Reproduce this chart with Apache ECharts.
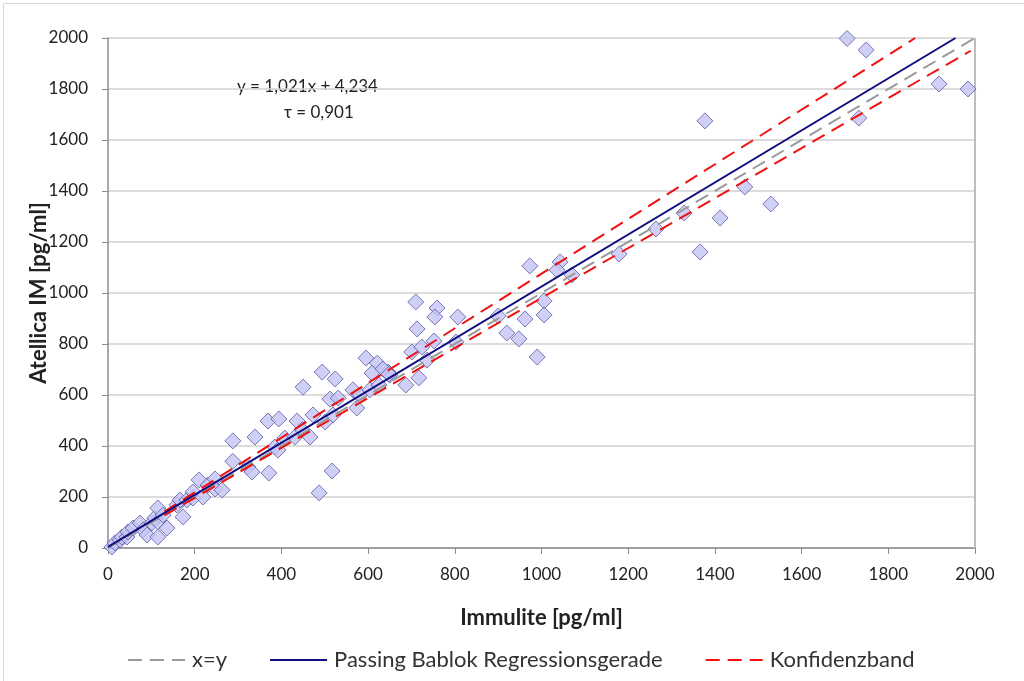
<!DOCTYPE html>
<html><head><meta charset="utf-8">
<script src="https://cdn.jsdelivr.net/npm/echarts@6/dist/echarts.min.js"></script>
<style>html,body{margin:0;padding:0;background:#fff}#c{width:1024px;height:681px}</style>
</head><body><div id="c"></div>
<script>
const xTicks = [0,200,400,600,800,1000,1200,1400,1600,1800,2000];
const yTicks = [0,200,400,600,800,1000,1200,1400,1600,1800,2000];
const seriesNames = ['x=y','Passing Bablok Regressionsgerade','Konfidenzband'];
const points = [
 [9,4],[16,20],[28,31],[32,43],[44,43],[46,63],[58,78],[74,98],[81,71],[90,51],
 [101,98],[108,118],[115,102],[115,157],[115,43],[127,129],[136,78],[159,169],[166,188],[173,122],
 [182,188],[196,196],[196,220],[210,267],[219,200],[231,247],[247,271],[247,231],[263,227],
 [288,420],[288,340],[323,318],[332,298],[371,294],[339,435],[369,498],[394,506],[385,396],[392,384],
 [408,431],[431,435],[436,498],[448,463],[466,435],[473,522],[501,494],[519,522],[517,302],[487,216],
 [450,631],[494,690],[524,663],[512,584],[531,588],[565,620],[581,600],[604,620],[574,549],[595,745],
 [621,725],[609,686],[646,690],[650,678],[625,639],[634,702],[648,682],[687,639],[717,667],[736,737],
 [701,769],[724,788],[752,812],[803,808],[710,965],[713,859],[759,941],[754,906],[807,906],[900,910],
 [920,843],[948,820],[962,898],[1006,969],[1006,914],[990,749],
 [973,1106],[1043,1122],[1036,1090],[1070,1071],[1179,1153],[1264,1251],[1329,1314],[1366,1161],[1377,1675],
 [1412,1294],[1469,1416],[1529,1349],[1705,1998],[1749,1953],[1732,1686],[1917,1820],[1984,1800]
];
const identityLine = [[0,0],[2000,2000]];
const regressionLine = [[0,4.234],[1955,2000]];
const upperBand = [[130,143],[1862,2000]];
const lowerBand = [[130,128],[1990,1950]];
const equationText = 'y = 1,021x + 4,234';
const tauText = 'τ = 0,901';

const chart = echarts.init(document.getElementById('c'));
const font = 'Lato, "Open Sans", sans-serif';
const lineSeries = (name, data, color, width, type, z) => ({
  type:'line', name, data, showSymbol:false, symbol:'none',
  itemStyle:{color, opacity:0}, lineStyle:{color, width, type}, z
});
chart.setOption({
  animation:false,
  textStyle:{fontFamily:font},
  grid:{left:108,right:49,top:38,bottom:133},
  xAxis:{type:'value',min:0,max:2000,interval:200,
    name:'Immulite [pg/ml]',nameLocation:'middle',nameGap:59,
    nameTextStyle:{fontSize:22,fontWeight:'bold',color:'#222',fontFamily:font},
    axisLine:{show:true,lineStyle:{color:'#8c8c8c',width:1.5}},
    axisTick:{show:true,length:6,lineStyle:{color:'#8c8c8c'}},
    axisLabel:{fontSize:17,color:'#222',margin:18,formatter:v=>String(v)},
    splitLine:{show:false}},
  yAxis:{type:'value',min:0,max:2000,interval:200,
    name:'Atellica IM [pg/ml]',nameLocation:'middle',nameGap:58,nameRotate:90,nameMoveOverlap:false,
    nameTextStyle:{fontSize:22,fontWeight:'bold',color:'#222',fontFamily:font},
    axisLine:{show:true,lineStyle:{color:'#8c8c8c',width:1.5}},
    axisTick:{show:true,length:6,lineStyle:{color:'#8c8c8c'}},
    axisLabel:{fontSize:17,color:'#222',margin:20,formatter:v=>String(v)},
    splitLine:{show:true,lineStyle:{color:'#d0d0d0',width:1.5}}},
  legend:{left:122,top:644,itemWidth:57,itemHeight:14,itemGap:42,
    itemStyle:{opacity:0},
    data:seriesNames,textStyle:{fontSize:22,color:'#333',fontFamily:font,padding:[0,0,0,2]}},
  graphic:[
    {type:'rect',left:1,top:1,shape:{width:1021,height:678},style:{fill:'none',stroke:'#d6d6d6',lineWidth:1},silent:true,z:-1},
    {type:'line',shape:{x1:975,y1:38,x2:975,y2:548},style:{stroke:'#bdbdbd',lineWidth:2},z:1},
    {type:'text',style:{text:equationText,font:'17px '+font,fill:'#222'},left:237,top:78},
    {type:'text',style:{text:tauText,font:'17px '+font,fill:'#222'},left:284,top:104}
  ],
  series:[
    {type:'scatter',name:'Messwerte',data:points,symbol:'diamond',symbolSize:16,
     itemStyle:{color:'#c4c4f4',borderColor:'#5a5aa6',borderWidth:1},z:3},
    lineSeries(seriesNames[0], identityLine, '#9a9a9a', 2, [14,8], 4),
    lineSeries(seriesNames[1], regressionLine, '#0d0d80', 2, 'solid', 5),
    lineSeries(seriesNames[2], upperBand, '#f01010', 2, [14,8], 4),
    lineSeries(seriesNames[2], lowerBand, '#f01010', 2, [14,8], 4)
  ]
});
</script></body></html>
